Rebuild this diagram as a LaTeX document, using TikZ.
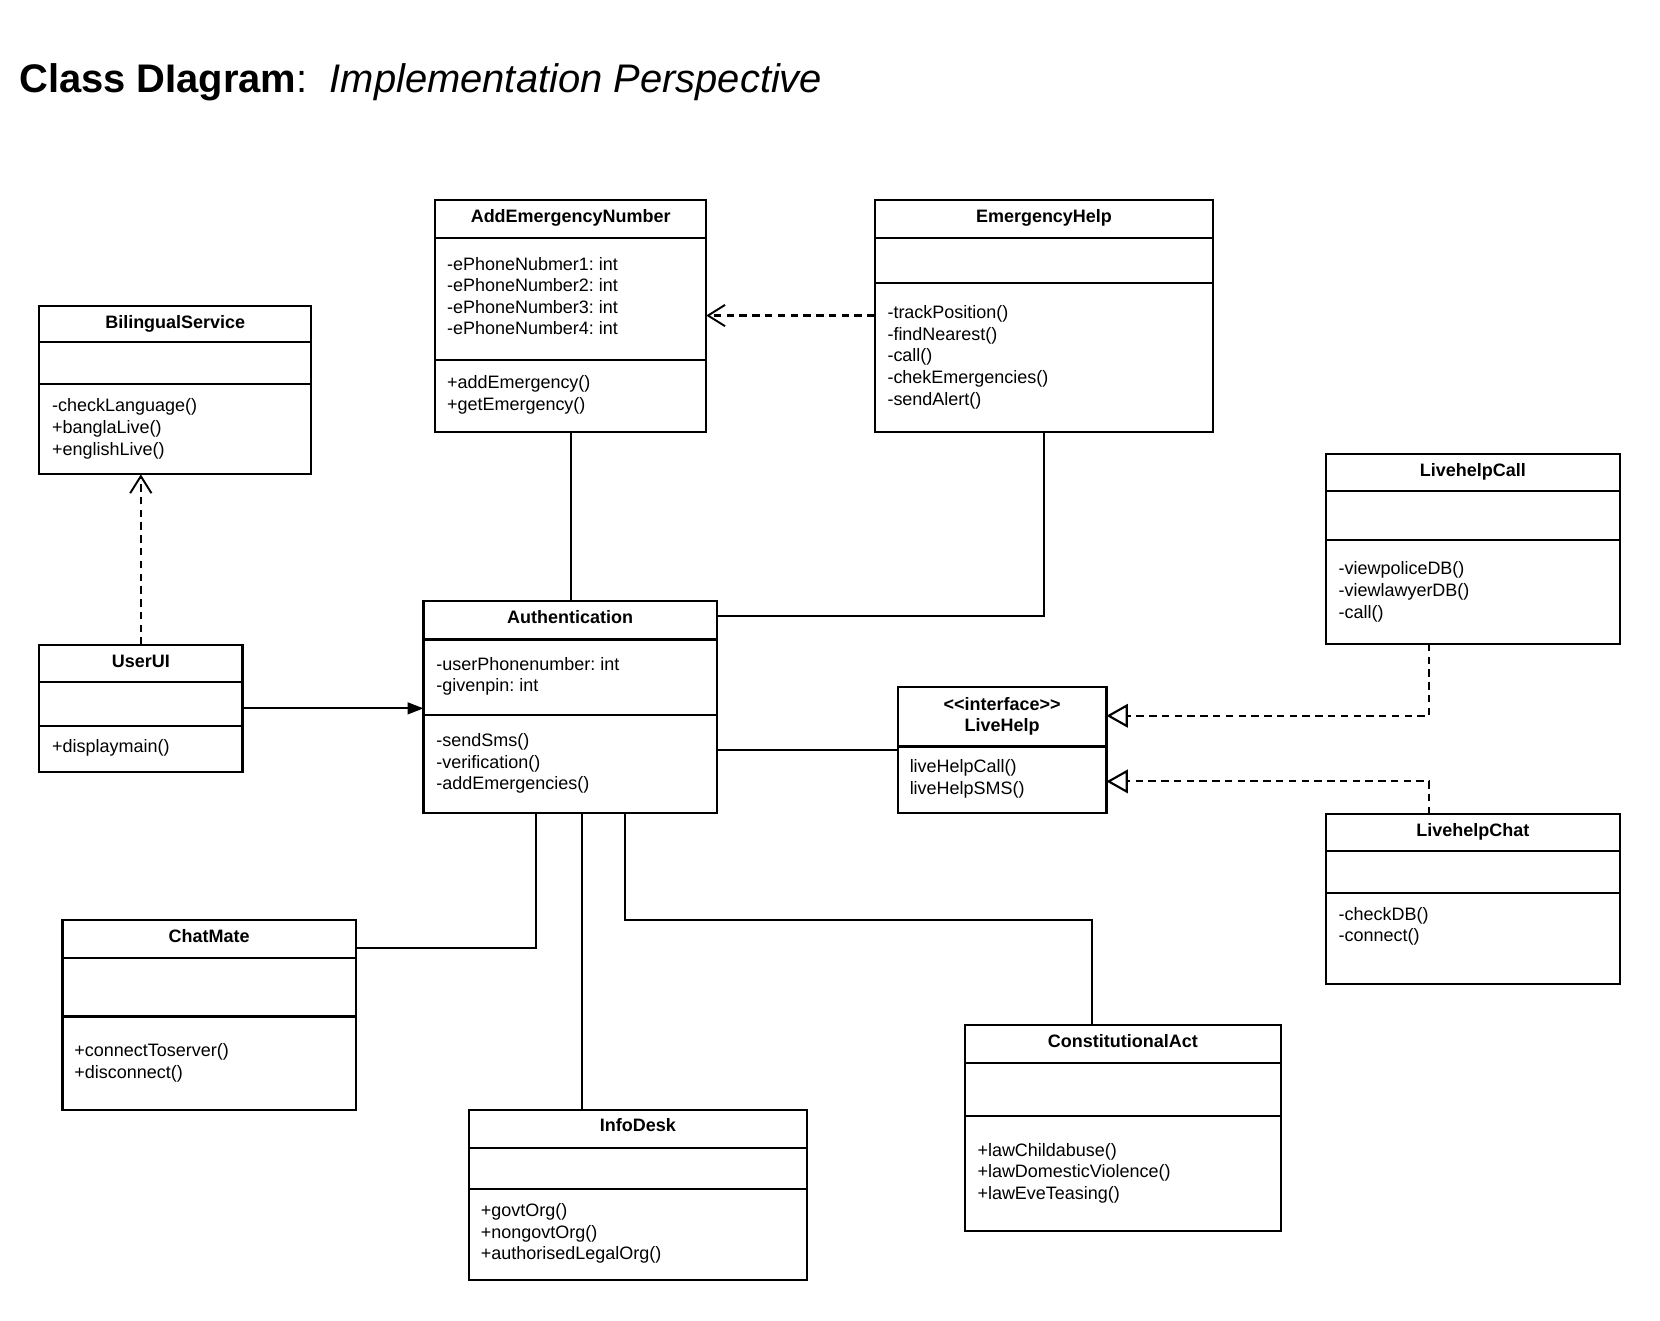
\documentclass[tikz,border=0pt]{standalone}
\usepackage{fontspec}
\setmainfont{Liberation Sans}
\usetikzlibrary{arrows.meta,calc}
\frenchspacing

\newcommand\classbox[8]{% name x1 y1 x2 y2 d1 d2 title
  \node[cls, minimum width={(#4-#2)*0.995pt}, minimum height={(#5-#3)*0.995pt}] (#1) at (#2,#3) {};
  \draw[divl] (#2,#6) -- (#4,#6);
  \draw[divl] (#2,#7) -- (#4,#7);
  \node[hdr] (#1-t) at ({(#2+#4)/2},{#3+21}) {#8};
}
\newcommand\classlines[4]{% name x ybase list
  \foreach \t [count=\i from 0] in {#4} \node[txt] (#1-l\i) at (#2,{#3+20.4*\i}) {\t};
}

\begin{document}
\begin{tikzpicture}[x=0.995pt,y=-0.995pt,
  cls/.style={draw,line width=2pt,inner sep=0pt,outer sep=0pt,anchor=north west},
  hdr/.style={font=\bfseries\fontsize{16.9}{20.4}\selectfont, inner sep=0pt, anchor=base},
  txt/.style={font=\fontsize{16.9}{20.4}\selectfont, inner sep=0pt, anchor=base west},
  divl/.style={line width=2pt},
  conn/.style={line width=2pt},
  dep/.style={line width=2pt, dash pattern=on 7pt off 5pt, -{Straight Barb[length=16pt,width=20pt,line width=1.8pt]}},
  realz/.style={line width=2pt, dash pattern=on 7pt off 5pt, -{Triangle[open,length=20pt,width=22pt,line width=2pt]}},
  nav/.style={line width=2pt, -{Triangle[length=15pt,width=11pt]}},
]
\useasboundingbox (0,0) rectangle ({1560/0.995},{1240.5/0.995});
\fill[white] (0,0) rectangle ({1560/0.995},{1240.5/0.995});

\node[anchor=base west, inner sep=0pt, font=\fontsize{37.5}{42}\selectfont] (title) at (18,87.5)
  {\textbf{Class DIagram}:\ \ \textit{Implementation Perspective}};

% classes
\classbox{add}{411}{189}{667}{408}{225}{340}{AddEmergencyNumber}
\classlines{add-a}{422}{255}{-ePhoneNubmer1: int,-ePhoneNumber2: int,-ePhoneNumber3: int,-ePhoneNumber4: int}
\classlines{add-m}{422}{367}{+addEmergency(),+getEmergency()}

\classbox{emerg}{826}{189}{1146}{408}{225}{267}{EmergencyHelp}
\classlines{emerg-m}{838}{301}{-trackPosition(),-findNearest(),-call(),-chekEmergencies(),-sendAlert()}

\classbox{bil}{37}{289}{294}{448}{323}{363}{BilingualService}
\classlines{bil-m}{49}{389}{-checkLanguage(),+banglaLive(),+englishLive()}

\classbox{lhcall}{1252}{429}{1530}{608}{464}{510}{LivehelpCall}
\classlines{lhcall-m}{1264}{543}{-viewpoliceDB(),-viewlawyerDB(),-call()}

\classbox{userui}{37}{609}{229}{729}{644}{686}{UserUI}
\classlines{userui-m}{49}{711}{+displaymain()}

\classbox{auth}{400}{568}{677}{768}{604}{675}{Authentication}
\classlines{auth-a}{412}{633}{-userPhonenumber: int,-givenpin: int}
\classlines{auth-m}{412}{705}{-sendSms(),-verification(),-addEmergencies()}

% interface
\node[cls, minimum width={197*0.995pt}, minimum height={119*0.995pt}] (lh) at (848,649) {};
\draw[divl] (848,705) -- (1045,705);
\node[hdr] (lh-s) at (946.5,671) {<{}<interface>{}>};
\node[hdr] (lh-t) at (946.5,691) {LiveHelp};
\classlines{lh-m}{859}{730}{liveHelpCall(),liveHelpSMS()}

\classbox{lhchat}{1252}{769}{1530}{929}{804}{843}{LivehelpChat}
\classlines{lhchat-m}{1264}{869}{-checkDB(),-connect()}

\classbox{chat}{59}{869}{336}{1048}{905}{960}{ChatMate}
\classlines{chat-m}{70}{998}{+connectToserver(),+disconnect()}

\classbox{info}{443}{1048}{762}{1209}{1084}{1123}{InfoDesk}
\classlines{info-m}{454}{1149}{+govtOrg(),+nongovtOrg(),+authorisedLegalOrg()}

\classbox{const}{911}{968}{1210}{1163}{1004}{1054}{ConstitutionalAct}
\classlines{const-m}{923}{1092}{+lawChildabuse(),+lawDomesticViolence(),+lawEveTeasing()}

% connectors
\draw[dep] (emerg.west |- 0,298) -- (add.east |- 0,298);
\draw[dep] (userui.north) -- (bil.south -| userui.north);
\draw[nav] (userui.east) -- (auth.west |- userui.east);
\draw[conn] (add.south) -- (auth.north -| add.south);
\draw[conn] (emerg.south) |- (auth.east |- 0,582);
\draw[conn] (auth.east |- lh.west) -- (lh.west);
\draw[realz] (lhcall.south -| 1350,0) |- (lh.east |- 0,676);
\draw[realz] (lhchat.north -| 1350,0) |- (lh.east |- 0,738);
\draw[conn] (auth.south -| 506,0) |- (chat.east |- 0,895);
\draw[conn] (auth.south -| 550,0) -- (info.north -| 550,0);
\draw[conn] (auth.south -| 590,0) -- (590,869) -- (1031,869) -- (const.north -| 1031,0);
\end{tikzpicture}
\end{document}
